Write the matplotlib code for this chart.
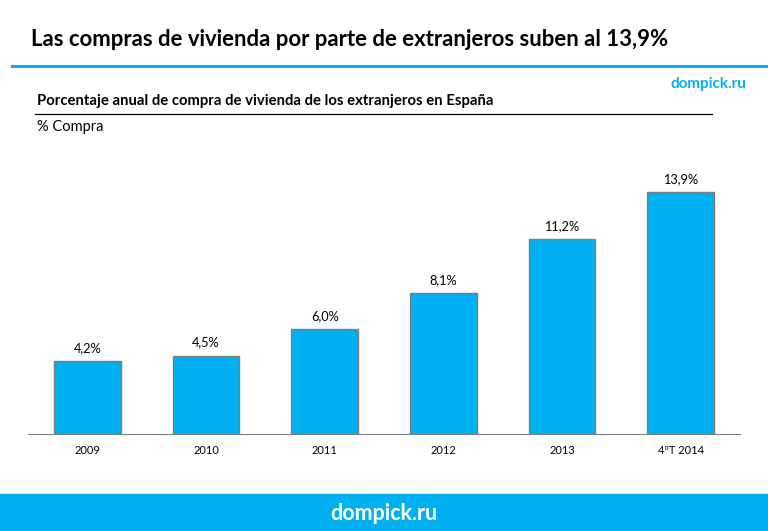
import matplotlib.pyplot as plt
from matplotlib.lines import Line2D
from matplotlib.patches import Rectangle

plt.rcParams['font.family'] = ['Lato', 'DejaVu Sans']

categories = ["2009", "2010", "2011", "2012", "2013", "4ºT 2014"]
values = [4.2, 4.5, 6.0, 8.1, 11.2, 13.9]
value_labels = ["4,2%", "4,5%", "6,0%", "8,1%", "11,2%", "13,9%"]

title = "Las compras de vivienda por parte de extranjeros suben al 13,9%"
subtitle = "Porcentaje anual de compra de vivienda de los extranjeros en España"
unit = "% Compra"
brand = "dompick.ru"

blue = "#00B0F0"
W, H = 768, 531

fig = plt.figure(figsize=(W / 100, H / 100), dpi=100)


def fx(px):
    return px / W


def fy(py):
    return 1 - py / H


# header
fig.text(fx(31), fy(40), title, fontsize=15.9, fontweight="bold", va="center", ha="left")
fig.add_artist(Line2D([fx(12), fx(768)], [fy(66), fy(66)], color=blue, lw=2.2))
fig.text(fx(746), fy(84), brand, fontsize=11, fontweight="bold", color=blue, va="center", ha="right")
fig.text(fx(37), fy(101), subtitle, fontsize=10.7, fontweight="bold", va="center", ha="left")
fig.add_artist(Line2D([fx(35), fx(712)], [fy(114), fy(114)], color="black", lw=0.9))
fig.text(fx(37), fy(127), unit, fontsize=10.5, va="center", ha="left")

# footer band
fig.add_artist(Rectangle((0, 0), 1, fy(494), transform=fig.transFigure, color=blue, zorder=0))
fig.text(0.5, fy(513), brand, fontsize=15.5, fontweight="bold", color="white", va="center", ha="center")

# chart
ax = fig.add_axes([fx(28), fy(434), fx(740 - 28), (434 - 155) / H])
x = range(len(categories))
ax.bar(x, values, width=0.56, color=blue, edgecolor="#7f7f7f", linewidth=1)
for i, v in enumerate(values):
    ax.annotate(value_labels[i], (i, v), xytext=(0, 5), textcoords="offset points",
                ha="center", va="bottom", fontsize=9.2)
ax.set_xlim(-0.5, len(categories) - 0.5)
ax.set_ylim(0, 16)
ax.set_xticks(list(x))
ax.set_xticklabels(categories, fontsize=8)
ax.tick_params(axis="x", length=0, pad=8)
ax.set_yticks([])
for s in ["top", "right", "left"]:
    ax.spines[s].set_visible(False)
ax.spines["bottom"].set_color("#808080")
ax.patch.set_alpha(0)

fig.savefig("out.png", dpi=100)
